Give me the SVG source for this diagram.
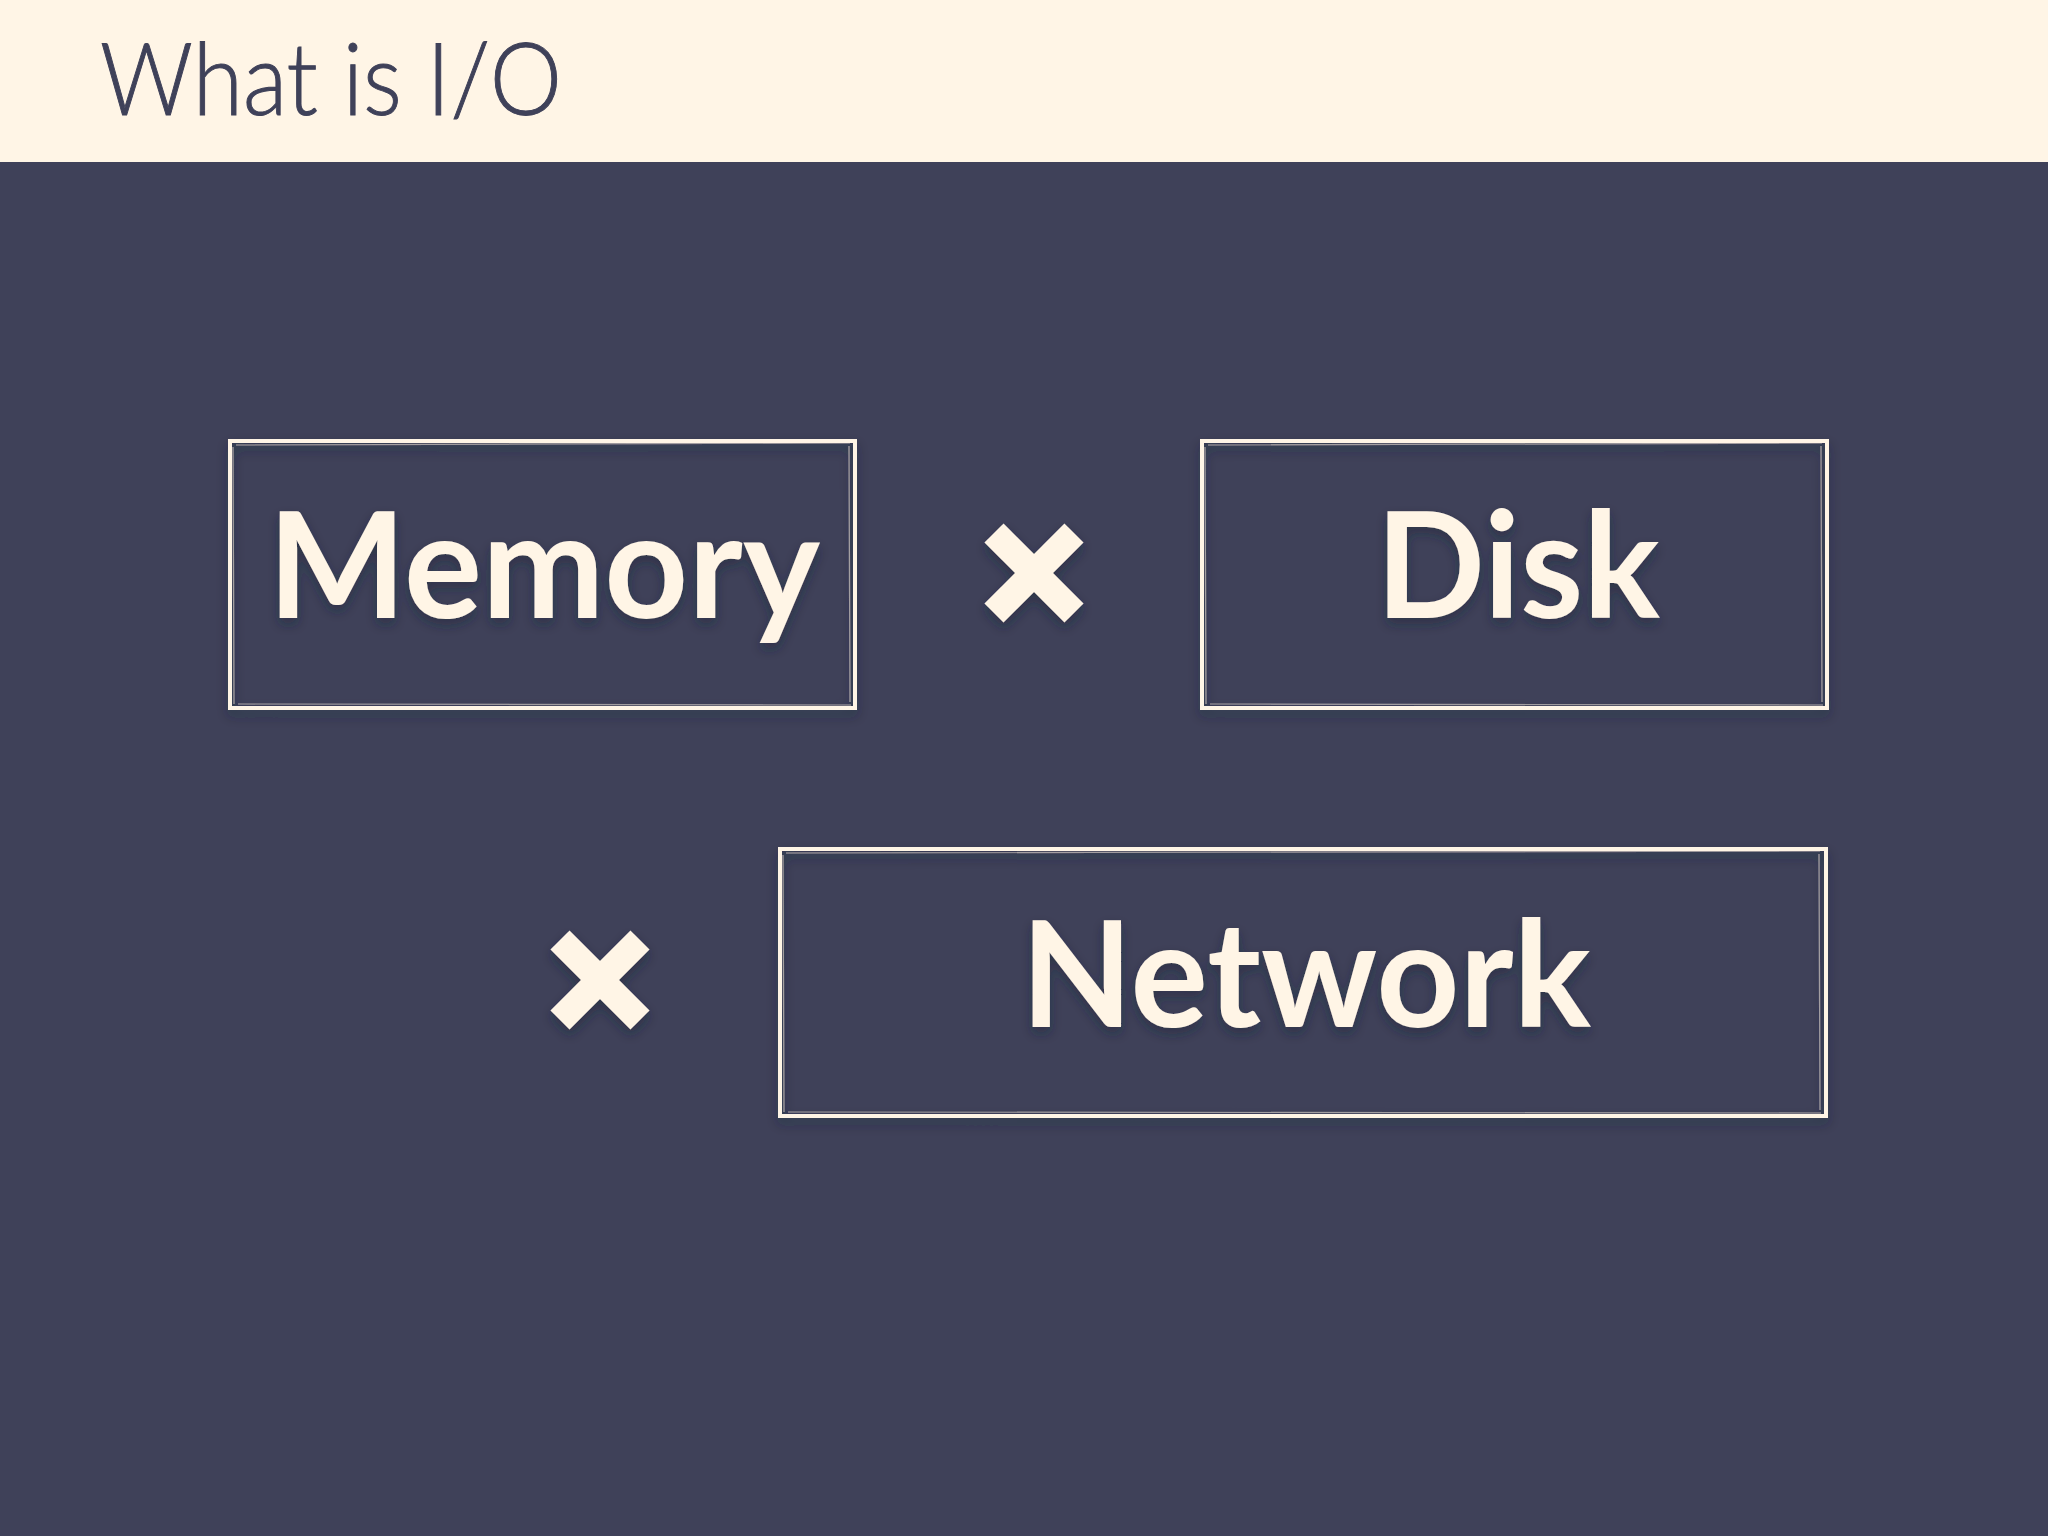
<svg xmlns="http://www.w3.org/2000/svg" width="2048" height="1536" viewBox="0 0 2048 1536">
<style>
.title{font-family:Lato,"Liberation Sans",sans-serif;font-weight:300;font-size:100px;fill:#3f4159;stroke:#3f4159;stroke-width:1}
.label{font-family:Lato,"Open Sans","Liberation Sans",sans-serif;font-weight:700;font-size:148px;fill:#fff5e6}
.frame{fill:none;stroke:#fff5e6;stroke-width:4}
.sketch{fill:none;stroke:#fff5e6;stroke-width:1.2;opacity:0.5}
.cross{stroke:#fff5e6;stroke-width:27;stroke-linecap:butt}
</style>
<defs>
<filter id="sh" x="-10%" y="-10%" width="120%" height="130%">
<feDropShadow dx="0" dy="6" stdDeviation="6" flood-color="#1e2030" flood-opacity="0.45"/>
</filter>
</defs>
<rect x="0" y="0" width="2048" height="1536" fill="#3f4159"/>
<rect x="0" y="0" width="2048" height="162" fill="#fff5e6"/>
<text class="title" x="100" y="115" textLength="462" lengthAdjust="spacingAndGlyphs">What is I/O</text>

<g id="memory" filter="url(#sh)">
<rect class="frame" x="230" y="441" width="625" height="267"/>
<path class="sketch" d="M236 445 L850 443 M233 447 L234 704 M238 704 L851 705 M849 446 L850 702"/>
<text class="label" x="268" y="618" textLength="552" lengthAdjust="spacingAndGlyphs">Memory</text>
</g>

<g id="disk" filter="url(#sh)">
<rect class="frame" x="1202" y="441" width="625" height="267"/>
<path class="sketch" d="M1208 445 L1822 443 M1205 447 L1206 704 M1210 704 L1823 705 M1821 446 L1822 702"/>
<text class="label" x="1376" y="618" textLength="284" lengthAdjust="spacingAndGlyphs">Disk</text>
</g>

<g id="network" filter="url(#sh)">
<rect class="frame" x="780" y="849" width="1046" height="267"/>
<path class="sketch" d="M786 853 L1820 851 M783 855 L784 1112 M788 1112 L1821 1113 M1819 854 L1820 1110"/>
<text class="label" x="1021" y="1027" textLength="570" lengthAdjust="spacingAndGlyphs">Network</text>
</g>

<g id="connectors" filter="url(#sh)">
<g id="times1">
<line class="cross" x1="994" y1="533" x2="1074" y2="613"/>
<line class="cross" x1="1074" y1="533" x2="994" y2="613"/>
</g>
<g id="times2">
<line class="cross" x1="560" y1="940" x2="640" y2="1020"/>
<line class="cross" x1="640" y1="940" x2="560" y2="1020"/>
</g>
</g>
</svg>
